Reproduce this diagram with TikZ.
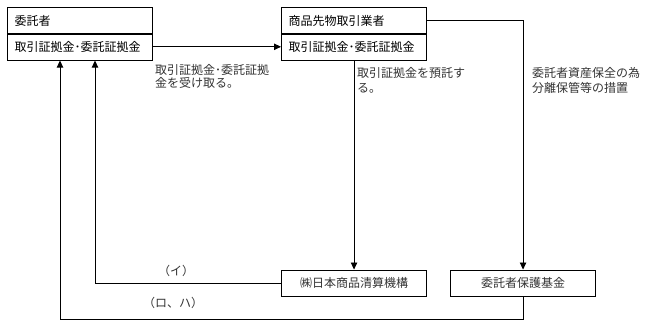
\documentclass[tikz,border=0pt]{standalone}
\usepackage{fontspec}
\setmainfont{Noto Sans CJK JP}
\usetikzlibrary{arrows.meta}
\begin{document}
\begin{tikzpicture}[x=1pt,y=-1pt,
  font=\fontsize{12pt}{13.5pt}\selectfont,
  box/.style={draw, line width=1.1pt, minimum height=26.5pt, text width=131pt,
    inner xsep=7pt, inner ysep=0pt, align=left, anchor=north west},
  cbox/.style={box, align=center},
  conn/.style={line width=0.9pt},
  arr/.style={conn, -{Triangle[length=7pt,width=6.5pt]}},
  lbl/.style={anchor=north west, align=left, inner sep=0pt, text=black!80}]
\useasboundingbox (0,0) rectangle (646,325);
% boxes
\node[box] (c1top) at (7,7) {委託者};
\node[box] (c1bot) at (7,33) {取引証拠金･委託証拠金};
\node[box] (b2top) at (281,7) {商品先物取引業者};
\node[box] (b2bot) at (281,33) {取引証拠金･委託証拠金};
\node[cbox, text=black!80] (b3) at (281,269.5) {㈱日本商品清算機構};
\node[cbox, text=black!80] (b4) at (450,269.5) {委託者保護基金};
% connectors
\draw[arr] (c1bot.east) -- (b2bot.west);
\draw[arr] (b3.north |- b2bot.south) -- (b3.north);
\draw[arr] (b2top.east) -| (b4.north);
\draw[arr] (b3.west) -| ([xshift=88pt]c1bot.south west);
\draw[arr] (b4.south) -- ++(0,22) -| ([xshift=53pt]c1bot.south west);
% labels
\node[lbl] (l1) at (155,64) {取引証拠金･委託証拠\\金を受け取る。};
\node[lbl, font=\fontsize{12pt}{15pt}\selectfont] (l2) at (357,67.5) {取引証拠金を預託す\\る。};
\node[lbl, font=\fontsize{12pt}{15pt}\selectfont] (l3) at (532,67.5) {委託者資産保全の為\\分離保管等の措置};
\node[inner sep=0pt, text=black!80] (l4) at (176,271) {（イ）};
\node[inner sep=0pt, text=black!80] (l5) at (173,303) {（ロ、ハ）};
\end{tikzpicture}
\end{document}
